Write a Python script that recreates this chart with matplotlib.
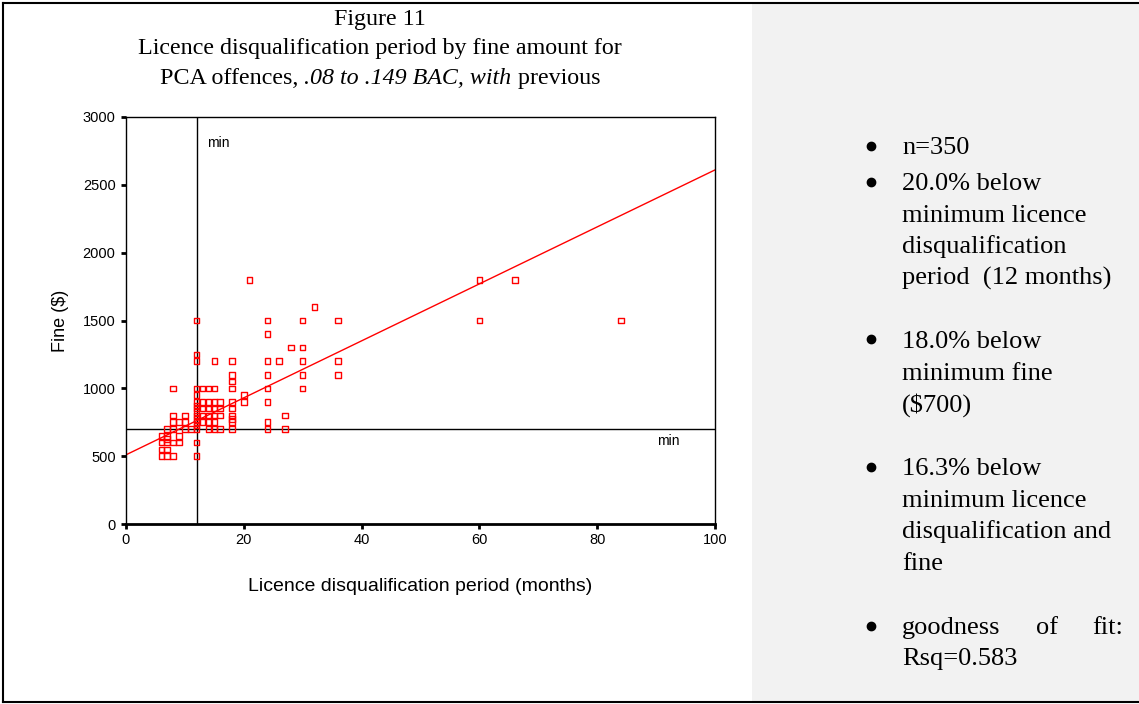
import matplotlib.pyplot as plt
from matplotlib.patches import Rectangle
from matplotlib.lines import Line2D

plt.rcParams['font.family'] = ['Liberation Sans', 'DejaVu Sans']

# Points (months, fine $); overlapping cases shown once
months = ([6] * 4 + [7] * 6 + [8] * 6 + [9] * 3 + [10] * 3 + [11]
          + [12] * 16 + [13] * 5 + [14] * 6 + [15] * 7 + [16] * 4
          + [18] * 10 + [20] * 2 + [21] + [24] * 8 + [26] + [27] * 2
          + [28] + [30] * 5 + [32] + [36] * 3 + [60] * 2 + [66] + [84])
fines = ([500, 550, 600, 650]
         + [500, 550, 600, 625, 650, 700]
         + [500, 600, 700, 750, 800, 1000]
         + [600, 650, 750]
         + [700, 750, 800]
         + [700]
         + [500, 600, 700, 725, 750, 775, 800, 825, 850, 875, 900, 950, 1000, 1200, 1250, 1500]
         + [750, 800, 850, 900, 1000]
         + [700, 750, 800, 850, 900, 1000]
         + [700, 750, 800, 850, 900, 1000, 1200]
         + [700, 800, 850, 900]
         + [700, 750, 775, 800, 850, 900, 1000, 1050, 1100, 1200]
         + [900, 950]
         + [1800]
         + [700, 750, 900, 1000, 1100, 1200, 1400, 1500]
         + [1200]
         + [700, 800]
         + [1300]
         + [1000, 1100, 1200, 1300, 1500]
         + [1600]
         + [1100, 1200, 1500]
         + [1500, 1800]
         + [1800]
         + [1500])

fit_intercept = 510
fit_slope = 21.0
min_months = 12
min_fine = 700

xticks = [0, 20, 40, 60, 80, 100]
yticks = [0, 500, 1000, 1500, 2000, 2500, 3000]

notes = [
    ["n=350"],
    ["20.0% below", "minimum licence", "disqualification", "period  (12 months)"],
    ["18.0% below", "minimum fine", "($700)"],
    ["16.3% below", "minimum licence", "disqualification and", "fine"],
    ["goodness of fit:", "Rsq=0.583"],
]
# baseline (pixels from top) of each note line
note_rows = [[154], [190, 222, 253, 285], [348, 380, 412],
             [475, 507, 538, 570], [634, 665]]

W, H = 1139, 704
fig = plt.figure(figsize=(W / 100, H / 100), dpi=100)

def fx(px):
    return px / W

def fy(py):
    return 1 - py / H

# right grey panel and page border
fig.patches.append(Rectangle((fx(752), fy(702)), fx(1139) - fx(752), fy(3) - fy(702),
                             transform=fig.transFigure, facecolor='#f2f2f2',
                             edgecolor='none', zorder=0))
for xs, ys in [((3, 1139), (3, 3)), ((3, 1139), (702, 702)), ((3, 3), (3, 702))]:
    fig.lines.append(Line2D([fx(xs[0]), fx(xs[1])], [fy(ys[0]), fy(ys[1])],
                            transform=fig.transFigure, color='black', lw=1.5))

ax = fig.add_axes([fx(126), fy(524), fx(715) - fx(126), fy(117) - fy(524)])
ax.scatter(months, fines, marker='s', s=16, facecolors='none',
           edgecolors='#ff0000', linewidths=1.0, zorder=3)
ax.plot([0, 100], [fit_intercept, fit_intercept + fit_slope * 100],
        color='#ff0000', lw=1.0, zorder=2)
ax.axvline(min_months, color='black', lw=1.0, zorder=1)
ax.axhline(min_fine, color='black', lw=1.0, zorder=1)
ax.text(13.7, 2808, "min", fontsize=10, va='center', ha='left')
ax.text(90.2, 612, "min", fontsize=10, va='center', ha='left')

ax.set_xlim(0, 100)
ax.set_ylim(0, 3000)
ax.set_xticks(xticks)
ax.set_yticks(yticks)
ax.tick_params(direction='out', length=3.5, width=2, labelsize=10.5, pad=4)
ax.tick_params(axis='x', pad=3)
for side in ['top', 'right', 'left']:
    ax.spines[side].set_linewidth(1.0)
ax.spines['bottom'].set_linewidth(2.0)
ax.set_xlabel("Licence disqualification period (months)", fontsize=14, labelpad=22)
ax.set_ylabel("Fine ($)", fontsize=13, labelpad=10)

# title
serif = ['Liberation Serif', 'DejaVu Serif']
tsize = 17.3
fig.text(fx(380), fy(25), "Figure 11", fontsize=tsize, family=serif, ha='center', va='baseline')
fig.text(fx(380), fy(54), "Licence disqualification period by fine amount for",
         fontsize=tsize, family=serif, ha='center', va='baseline')
parts = [("PCA offences, ", 'normal'), (".08 to .149 BAC, with", 'italic'), (" previous", 'normal')]
pieces = [fig.text(0, fy(84), s, fontsize=tsize, family=serif, fontstyle=st, va='baseline')
          for s, st in parts]
fig.canvas.draw()
r = fig.canvas.get_renderer()
widths = [t.get_window_extent(r).width for t in pieces]
x0 = 380 - sum(widths) / 2
for t, w in zip(pieces, widths):
    t.set_x(fx(x0))
    x0 += w

# notes in the grey panel
for group, rows in zip(notes, note_rows):
    fig.lines.append(Line2D([fx(871)], [fy(rows[0] - 8.5)], transform=fig.transFigure,
                            marker='o', markersize=6, color='black', lw=0))
    for line, yb in zip(group, rows):
        if line == "goodness of fit:":
            fig.text(fx(902), fy(yb), "goodness", fontsize=19, family=serif, va='baseline')
            fig.text(fx(1047), fy(yb), "of", fontsize=19, family=serif, ha='center', va='baseline')
            fig.text(fx(1123), fy(yb), "fit:", fontsize=19, family=serif, ha='right', va='baseline')
        else:
            fig.text(fx(902), fy(yb), line, fontsize=19, family=serif, va='baseline')

fig.savefig("out.png", dpi=100)
